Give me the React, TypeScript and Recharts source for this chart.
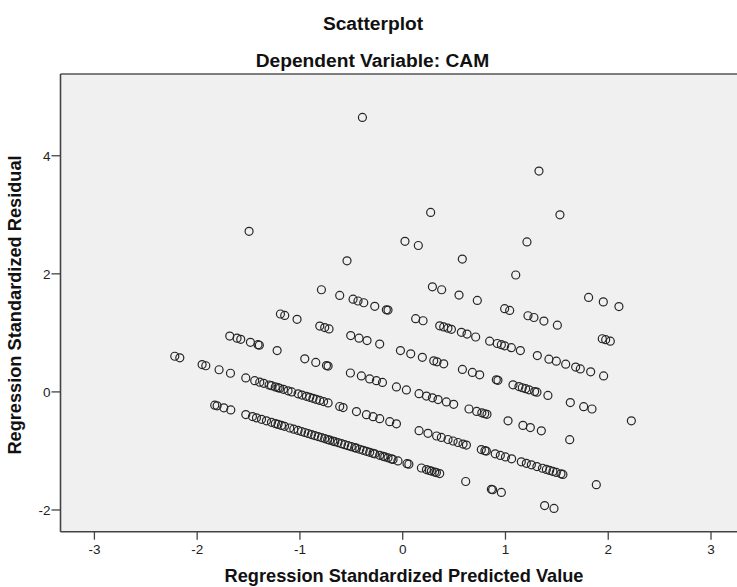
import React from "react";
import { ScatterChart, Scatter, XAxis, YAxis, CartesianGrid, ReferenceLine } from "recharts";

const xTicks = [-3, -2, -1, 0, 1, 2, 3];
const yTicks = [-2, 0, 2, 4];

const bandTop: [number, number][] = [
  [-0.392, 4.65], [1.326, 3.74], [1.53, 3.0], [0.272, 3.04], [1.209, 2.54],
];

const band256: [number, number][] = [
  [0.022, 2.55], [0.152, 2.48], [0.58, 2.25], [1.1, 1.98], [1.809, 1.6], [1.952, 1.525], [2.104, 1.445],
];

const band193: [number, number][] = [
  [-1.495, 2.72], [-0.542, 2.22], [0.289, 1.78], [0.379, 1.73], [0.548, 1.64], [0.726, 1.55],
  [0.992, 1.41], [1.041, 1.38], [1.219, 1.29], [1.277, 1.26], [1.374, 1.2], [1.505, 1.13],
  [1.942, 0.9], [1.975, 0.885], [2.02, 0.86],
];

const band131: [number, number][] = [
  [-0.791, 1.73], [-0.613, 1.635], [-0.483, 1.57], [-0.435, 1.54], [-0.379, 1.51], [-0.272, 1.45],
  [-0.159, 1.39], [-0.143, 1.386], [0.126, 1.24], [0.198, 1.205], [0.36, 1.12], [0.399, 1.1],
  [0.44, 1.08], [0.474, 1.06], [0.571, 1.01], [0.626, 0.98], [0.71, 0.93], [0.846, 0.86],
  [0.92, 0.82], [0.96, 0.8], [0.992, 0.78], [1.057, 0.75], [1.145, 0.7], [1.31, 0.615],
  [1.423, 0.555], [1.495, 0.52], [1.586, 0.47], [1.683, 0.42], [1.728, 0.39], [1.829, 0.34],
  [1.955, 0.27],
];

const band069: [number, number][] = [
  [-1.19, 1.32], [-1.148, 1.295], [-1.028, 1.23], [-0.807, 1.115], [-0.759, 1.09], [-0.717, 1.067],
  [-0.506, 0.955], [-0.425, 0.91], [-0.347, 0.87], [-0.224, 0.81], [-0.022, 0.7], [0.078, 0.645],
  [0.191, 0.585], [0.302, 0.527], [0.334, 0.51], [0.399, 0.475], [0.581, 0.38], [0.678, 0.33],
  [0.749, 0.29], [0.911, 0.204], [0.927, 0.196], [1.073, 0.12], [1.131, 0.09], [1.164, 0.07],
  [1.196, 0.055], [1.229, 0.035], [1.284, 0.005], [1.306, -0.005], [1.413, -0.06], [1.631, -0.18],
  [1.761, -0.25], [1.842, -0.29], [2.225, -0.49],
];

const band005: [number, number][] = [
  [-1.683, 0.945], [-1.612, 0.91], [-1.576, 0.89], [-1.482, 0.84], [-1.408, 0.8], [-1.395, 0.79],
  [-1.222, 0.7], [-0.953, 0.56], [-0.846, 0.5], [-0.742, 0.446], [-0.726, 0.438], [-0.509, 0.32],
  [-0.402, 0.27], [-0.321, 0.22], [-0.256, 0.19], [-0.197, 0.16], [-0.061, 0.085], [0.036, 0.034],
  [0.159, -0.03], [0.231, -0.07], [0.289, -0.1], [0.344, -0.13], [0.425, -0.17], [0.496, -0.21],
  [0.645, -0.29], [0.72, -0.33], [0.77, -0.355], [0.798, -0.37], [0.82, -0.38], [1.025, -0.49],
  [1.17, -0.567], [1.242, -0.605], [1.349, -0.66], [1.625, -0.81],
];

const bandM057: [number, number][] = [
  [-2.218, 0.604], [-2.169, 0.578], [-1.952, 0.463], [-1.916, 0.443], [-1.787, 0.375], [-1.676, 0.316],
  [-1.527, 0.237], [-1.44, 0.191], [-1.391, 0.165], [-1.352, 0.145], [-1.3, 0.117], [-1.277, 0.105],
  [-1.24, 0.085], [-1.213, 0.071], [-1.197, 0.062], [-1.16, 0.043], [-1.116, 0.019], [-1.08, 0.0],
  [-1.018, -0.032], [-0.98, -0.053], [-0.937, -0.075], [-0.905, -0.092], [-0.873, -0.109], [-0.84, -0.127],
  [-0.807, -0.144], [-0.77, -0.164], [-0.726, -0.187], [-0.613, -0.247], [-0.58, -0.265], [-0.45, -0.333],
  [-0.353, -0.385], [-0.288, -0.419], [-0.224, -0.453], [-0.126, -0.505], [-0.061, -0.54], [0.159, -0.656],
  [0.246, -0.702], [0.33, -0.747], [0.376, -0.771], [0.441, -0.806], [0.49, -0.832], [0.538, -0.857],
  [0.587, -0.883], [0.62, -0.901], [0.765, -0.977], [0.8, -0.996], [0.814, -1.003], [0.9, -1.049],
  [0.95, -1.076], [1.0, -1.102], [1.06, -1.134], [1.154, -1.184], [1.203, -1.21], [1.252, -1.236],
  [1.306, -1.264], [1.36, -1.293], [1.398, -1.313], [1.43, -1.33], [1.462, -1.347], [1.495, -1.364],
  [1.54, -1.388], [1.559, -1.398], [1.884, -1.571],
];

const bandM119: [number, number][] = [
  [-1.829, -0.224], [-1.806, -0.236], [-1.741, -0.27], [-1.673, -0.306], [-1.527, -0.384], [-1.462, -0.418],
  [-1.423, -0.439], [-1.374, -0.465], [-1.326, -0.49], [-1.277, -0.516], [-1.24, -0.536], [-1.213, -0.55],
  [-1.18, -0.568], [-1.15, -0.583], [-1.099, -0.611], [-1.06, -0.631], [-1.018, -0.653], [-0.985, -0.671],
  [-0.953, -0.688], [-0.92, -0.705], [-0.888, -0.722], [-0.856, -0.739], [-0.823, -0.757], [-0.79, -0.774],
  [-0.759, -0.791], [-0.73, -0.806], [-0.71, -0.817], [-0.68, -0.833], [-0.661, -0.843], [-0.63, -0.859],
  [-0.596, -0.877], [-0.565, -0.894], [-0.532, -0.911], [-0.5, -0.928], [-0.467, -0.945], [-0.45, -0.954],
  [-0.418, -0.971], [-0.385, -0.989], [-0.353, -1.006], [-0.321, -1.023], [-0.289, -1.04], [-0.272, -1.049],
  [-0.224, -1.074], [-0.191, -1.092], [-0.175, -1.1], [-0.143, -1.117], [-0.11, -1.135], [-0.094, -1.143],
  [-0.046, -1.169], [0.042, -1.215], [0.06, -1.225], [0.182, -1.289], [0.231, -1.315], [0.26, -1.331],
  [0.279, -1.341], [0.311, -1.358], [0.328, -1.367], [0.36, -1.384], [0.613, -1.518], [0.863, -1.65],
  [0.875, -1.657], [0.96, -1.702], [1.381, -1.925], [1.472, -1.973],
];

const points = [
  ...bandTop, ...band256, ...band193, ...band131, ...band069, ...band005, ...bandM057, ...bandM119,
].map(([x, y]) => ({ x, y }));

const FONT = "'Liberation Sans', Arial, sans-serif";

const Ring = (props: any) => (
  <circle cx={props.cx} cy={props.cy} r={4} fill="none" stroke="#262626" strokeWidth={1.2} />
);

export default function App() {
  return (
    <div style={{ position: "absolute", left: 0, top: 0, width: 737, height: 587, background: "#fff" }}>
      <ScatterChart
        width={737}
        height={587}
        margin={{ top: 74, right: 0, left: 0, bottom: 15.3 }}
      >
        <CartesianGrid fill="#f0f0f0" horizontal={false} vertical={false} />
        <XAxis
          type="number"
          dataKey="x"
          domain={[-3.33, 3.253]}
          ticks={xTicks}
          allowDataOverflow
          height={40}
          tickSize={8}
          tickMargin={5}
          axisLine={{ stroke: "#444", strokeWidth: 1.6 }}
          tickLine={{ stroke: "#444", strokeWidth: 1.3 }}
          tick={{ fill: "#222", fontSize: 13.5, fontFamily: FONT }}
        />
        <YAxis
          type="number"
          dataKey="y"
          domain={[-2.368, 5.385]}
          ticks={yTicks}
          allowDataOverflow
          width={60.5}
          tickSize={9}
          tickMargin={1}
          axisLine={{ stroke: "#444", strokeWidth: 1.6 }}
          tickLine={{ stroke: "#444", strokeWidth: 1.3 }}
          tick={{ fill: "#222", fontSize: 13.5, fontFamily: FONT }}
        />
        <ReferenceLine y={5.385} stroke="#555" strokeWidth={1.6} />
        <Scatter data={points} shape={Ring} isAnimationActive={false} />
      </ScatterChart>
      <svg
        width={737}
        height={587}
        style={{ position: "absolute", left: 0, top: 0, pointerEvents: "none" }}
      >
        <text x={373} y={30} textAnchor="middle" fontFamily={FONT} fontWeight="bold" fontSize={19.2} fill="#111">
          Scatterplot
        </text>
        <text x={372.4} y={66.5} textAnchor="middle" fontFamily={FONT} fontWeight="bold" fontSize={19.2} fill="#111">
          Dependent Variable: CAM
        </text>
        <text x={404} y={582} textAnchor="middle" fontFamily={FONT} fontWeight="bold" fontSize={18.2} fill="#111">
          Regression Standardized Predicted Value
        </text>
        <text
          x={0}
          y={0}
          transform="translate(21,305) rotate(-90)"
          textAnchor="middle"
          fontFamily={FONT}
          fontWeight="bold"
          fontSize={18.2}
          fill="#111"
        >
          Regression Standardized Residual
        </text>
      </svg>
    </div>
  );
}
